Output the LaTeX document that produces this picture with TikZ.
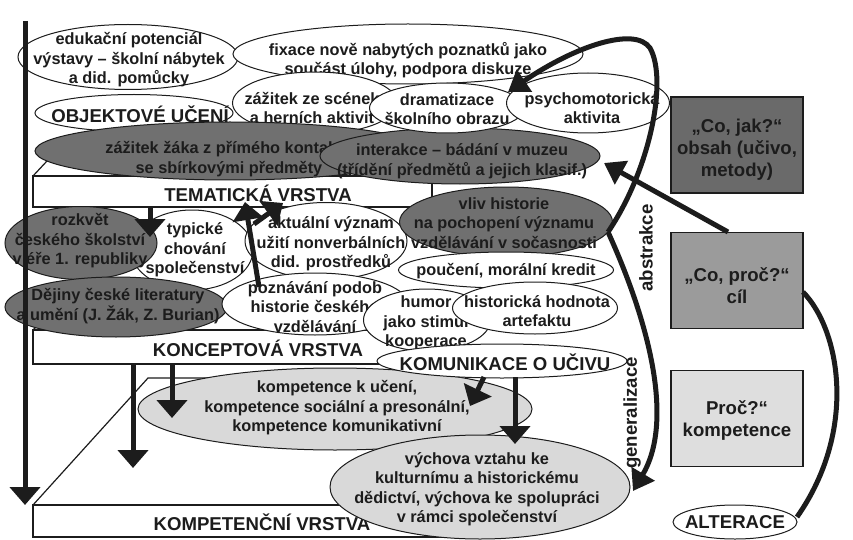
\documentclass[tikz,border=0pt]{standalone}
\usepackage{fontspec}
\setmainfont{Liberation Sans Bold}
\usetikzlibrary{shapes.geometric,arrows.meta}
\definecolor{ink}{RGB}{28,28,28}
\definecolor{dkg}{RGB}{112,112,112}
\definecolor{ltg}{RGB}{217,217,217}
\definecolor{boxa}{RGB}{106,106,106}
\definecolor{boxb}{RGB}{155,155,155}
\definecolor{boxc}{RGB}{222,222,222}
\begin{document}
\begin{tikzpicture}[x=1pt,y=-1pt,
  ell/.style={ellipse, draw=ink, line width=1pt, inner sep=0pt},
  wh/.style={ell, fill=white},
  dk/.style={ell, fill=dkg},
  lt/.style={ell, fill=ltg},
  tx/.style={align=center, inner sep=0pt, text=ink, font=\fontsize{16.3}{19.5}\selectfont},
  big/.style={align=center, inner sep=0pt, text=ink, font=\fontsize{18.6}{21}\selectfont},
  sidetx/.style={align=center, inner sep=0pt, text=ink, font=\fontsize{18.6}{22}\selectfont},
  layer/.style={draw=ink, line width=1.2pt, fill=white},
  face/.style={draw=ink, line width=1.2pt},
  arr/.style={line width=5pt, draw=ink, -{Triangle[width=30pt,length=18pt]}},
  carr/.style={line width=5pt, draw=ink, -{Triangle[width=26pt,length=20pt]}},
  cline/.style={line width=5pt, draw=ink},
  sidebox/.style={draw=ink, line width=1.2pt, minimum width=132pt, minimum height=96pt},
]
\useasboundingbox (0,0) rectangle (853,540);
\fill[white] (0,0) rectangle (853,540);

% ---------- layers
\draw[layer] (33,176) rectangle (432,207);
\draw[face] (33,176) -- (47,161) -- (432,161);
\node[big] (tema) at (258,193) {TEMATICKÁ VRSTVA};

\draw[layer] (33,330) rectangle (415,364);
\draw[face] (33,330) -- (41,322);
\node[big] (konc) at (258,348) {KONCEPTOVÁ VRSTVA};

\draw[layer] (33,505) rectangle (445,537);
\draw[face] (33,505) -- (148,378) -- (400,378);
\node[big] (kompv) at (262,522) {KOMPETENČNÍ VRSTVA};

% ---------- top group
\node[wh,minimum width=220pt,minimum height=65pt] (edu) at (128,57) {};
\node[tx] (edu-t) at (129,60) {edukační potenciál\\výstavy – školní nábytek\\a did. pomůcky};

\node[wh,minimum width=350pt,minimum height=60pt] (fix) at (408,54) {};
\node[tx] (fix-t) at (408,60) {fixace nově nabytých poznatků jako\\součást úlohy, podpora diskuze};

\node[wh,minimum width=198pt,minimum height=37pt] (obj) at (134,113) {};
\node[big] (obj-t) at (140,114) {OBJEKTOVÉ UČENÍ};

\node[wh,minimum width=165pt,minimum height=62pt] (scen) at (315,103) {};
\node[tx] (scen-t) at (312,108) {zážitek ze scének\\a herních aktivit};

\node[dk,minimum width=390pt,minimum height=58pt] (zaz) at (230,151) {};
\node[tx] (zaz-t) at (229,159) {zážitek žáka z přímého kontaktu\\se sbírkovými předměty};

\node[dk,minimum width=280pt,minimum height=56pt] (inter) at (460,156) {};
\node[tx] (inter-t) at (462,161) {interakce – bádání v muzeu\\(třídění předmětů a jejich klasif.)};

\node[wh,minimum width=155pt,minimum height=50pt] (dram) at (447,108) {};
\node[tx] (dram-t) at (447,109) {dramatizace\\školního obrazu};

\node[wh,minimum width=163pt,minimum height=60pt] (psy) at (588,103) {};
\node[tx] (psy-t) at (592,108) {psychomotorická\\aktivita};

% ---------- middle group
\node[wh,minimum width=122pt,minimum height=80pt] (typ) at (192,250) {};
\node[tx] (typ-t) at (195,250) {typické\\chování\\společenství};

\node[dk,minimum width=152pt,minimum height=73pt] (rozk) at (81,243) {};
\node[tx] (rozk-t) at (80,241) {rozkvět\\českého školství\\v éře 1. republiky};

\node[wh,minimum width=162pt,minimum height=77pt] (akt) at (326,241) {};
\node[tx] (akt-t) at (331,244) {aktuální význam\\užití nonverbálních\\did. prostředků};

\node[dk,minimum width=213pt,minimum height=70pt] (vliv) at (506,222) {};
\node[tx] (vliv-t) at (504,223) {vliv historie\\na pochopení významu\\vzdělávání v sočasnosti};

\node[dk,minimum width=222pt,minimum height=60pt] (dej) at (116,307) {};
\node[tx] (dej-t) at (118,306) {Dějiny české literatury\\a umění (J. Žák, Z. Burian)};

\node[wh,minimum width=186pt,minimum height=62pt] (pozn) at (315,304) {};
\node[tx] (pozn-t) at (315,307) {poznávání podob\\historie českého\\vzdělávání};

\node[wh,minimum width=215pt,minimum height=36pt] (pouc) at (506,270) {};
\node[tx] (pouc-t) at (506,271) {poučení, morální kredit};

\node[wh,minimum width=127pt,minimum height=62pt] (hum) at (427,320) {};
\node[tx] (hum-t) at (426,323) {humor\\jako stimul\\kooperace};

\node[wh,minimum width=165pt,minimum height=52pt] (hist) at (535,308) {};
\node[tx] (hist-t) at (537,311) {historická hodnota\\artefaktu};

% ---------- lower group
\node[lt,minimum width=394pt,minimum height=82pt] (komp) at (335,409) {};
\node[tx] (komp-t) at (337,408) {kompetence k učení,\\kompetence sociální a presonální,\\kompetence komunikativní};

\node[lt,minimum width=300pt,minimum height=104pt] (vych) at (480,487) {};
\node[tx] (vych-t) at (477,489) {výchova vztahu ke\\kulturnímu a historickému\\dědictví, výchova ke spolupráci\\v rámci společenství};

\node[wh,minimum width=250pt,minimum height=34pt] (kom) at (502,361) {};
\node[big] (kom-t) at (505,362) {KOMUNIKACE O UČIVU};

% ---------- right boxes
\node[sidebox, fill=boxa] (cojak) at (737,145) {};
\node[sidetx] (cojak-t) at (737,150) {„Co, jak?“\\obsah (učivo,\\metody)};
\node[sidebox, fill=boxb] (copro) at (737,280.5) {};
\node[sidetx] (copro-t) at (737,286) {„Co, proč?“\\cíl};
\node[sidebox, fill=boxc] (proc) at (737,418.5) {};
\node[sidetx] (proc-t) at (737,420) {Proč?“\\kompetence};
\node[wh,minimum width=124pt,minimum height=34pt] (alt) at (735,522) {};
\node[big] (alt-t) at (735,522) {ALTERACE};

% ---------- coordinates for connectors
\coordinate (lt0) at (25,21);
\coordinate (lt1) at (25,505);
\coordinate (tm0) at (150,207);
\coordinate (tm1) at (150,237);
\coordinate (up0) at (259,287);
\coordinate (up1) at (245,202);
\coordinate (up2) at (254,224);
\coordinate (up3) at (283,203);
\coordinate (kc0) at (133,364);
\coordinate (kc1) at (133,468);
\coordinate (kd0) at (172,364);
\coordinate (kd1) at (172,418);
\coordinate (ku0) at (484,377);
\coordinate (ku1) at (470,406);
\coordinate (kv0) at (515,377);
\coordinate (kv1) at (515,444);
\coordinate (vx) at (608,232);
\coordinate (absend) at (508,92);
\coordinate (genend) at (633,491);
\coordinate (cp0) at (728,232);
\coordinate (cp1) at (604,163);
\coordinate (al0) at (803,292);
\coordinate (al1) at (797,517);

% ---------- arrows
\draw[arr] (lt0) -- (lt1);
\draw[arr] (tm0) -- (tm1);
\draw[arr] (up0) -- (up1);
\draw[arr] (up2) -- (up3);
\draw[arr] (kc0) -- (kc1);
\draw[arr] (kd0) -- (kd1);
\draw[arr] (ku0) -- (ku1);
\draw[arr] (kv0) -- (kv1);
\draw[carr] (vx) .. controls (650,170) and (668,80) .. (650,48) .. controls (635,26) and (575,46) .. (absend);
\draw[carr] (vx) .. controls (648,320) and (675,420) .. (genend);
\draw[carr] (cp0) -- (cp1);
\draw[cline] (al0) .. controls (840,330) and (858,430) .. (al1);

\node[big, rotate=90] (abs-t) at (646,248) {abstrakce};
\node[big, rotate=90] (gen-t) at (632,413) {generalizace};
\end{tikzpicture}
\end{document}
